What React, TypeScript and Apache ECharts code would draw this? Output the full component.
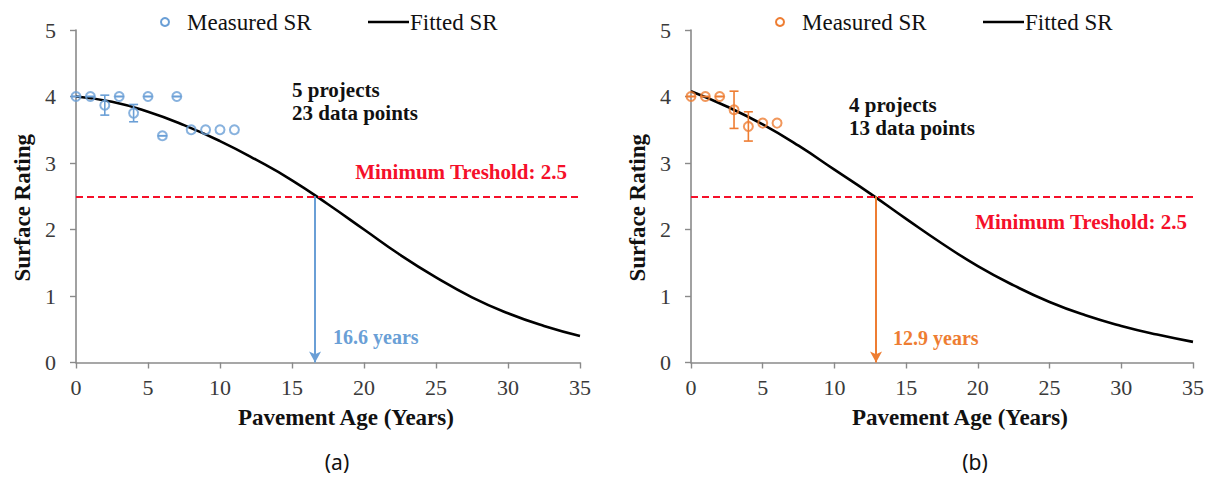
import React, { useEffect, useRef } from "react";
import * as echarts from "echarts";

// ---- data ----
const fitYears = [0, 2.5, 5, 7.5, 10, 12.5, 15, 17.5, 20, 22.5, 25, 27.5, 30, 32.5, 35];
const fittedA = [4.0, 3.92, 3.77, 3.57, 3.33, 3.05, 2.74, 2.38, 2.0, 1.62, 1.28, 0.98, 0.74, 0.55, 0.4];
const fittedB = [4.08, 3.85, 3.58, 3.26, 2.9, 2.54, 2.16, 1.79, 1.45, 1.16, 0.91, 0.71, 0.55, 0.42, 0.31];

const measuredAgeA = [0, 1, 2, 3, 4, 5, 6, 7, 8, 9, 10, 11];
const measuredSRA = [4.0, 4.0, 3.87, 4.0, 3.75, 4.0, 3.41, 4.0, 3.5, 3.5, 3.5, 3.5];
// error bars: [age, low, high]
const errAgeA = [0, 1, 2, 3, 4, 5, 6, 7];
const errLowA = [4.0, 4.0, 3.72, 4.0, 3.62, 4.0, 3.41, 4.0];
const errHighA = [4.0, 4.0, 4.02, 4.0, 3.88, 4.0, 3.41, 4.0];

const measuredAgeB = [0, 1, 2, 3, 4, 5, 6];
const measuredSRB = [4.0, 4.0, 4.0, 3.8, 3.55, 3.6, 3.6];
const errAgeB = [0, 1, 2, 3, 4];
const errLowB = [4.0, 4.0, 4.0, 3.52, 3.33];
const errHighB = [4.0, 4.0, 4.0, 4.08, 3.77];

const threshold = 2.5;
const lifeA = 16.6;
const lifeB = 12.9;

const xTicks = { min: 0, max: 35, interval: 5 };
const yTicks = { min: 0, max: 5, interval: 1 };

// ---- style ----
const SERIF = "'Liberation Serif', 'Times New Roman', serif";
const BLUE = "#6a9fd6";
const ORANGE = "#ee7d32";
const RED = "#f5102a";

function zip(a: number[], b: number[]) {
  return a.map((v, i) => [v, b[i]]);
}

function errData(a: number[], lo: number[], hi: number[]) {
  return a.map((v, i) => [v, lo[i], hi[i]]);
}

function errSeries(idx: number, data: number[][], color: string) {
  return {
    type: "custom",
    xAxisIndex: idx,
    yAxisIndex: idx,
    z: 5,
    silent: true,
    encode: { x: 0, y: [1, 2] },
    data,
    renderItem: (params: any, api: any) => {
      const x = api.value(0);
      const lo = api.coord([x, api.value(1)]);
      const hi = api.coord([x, api.value(2)]);
      const w = 4.5;
      const st = { stroke: color, lineWidth: 1.6 };
      return {
        type: "group",
        children: [
          { type: "line", shape: { x1: lo[0], y1: lo[1], x2: hi[0], y2: hi[1] }, style: st },
          { type: "line", shape: { x1: lo[0] - w, y1: lo[1], x2: lo[0] + w, y2: lo[1] }, style: st },
          { type: "line", shape: { x1: hi[0] - w, y1: hi[1], x2: hi[0] + w, y2: hi[1] }, style: st },
        ],
      };
    },
  };
}

function xAxis(idx: number, nameShift: number) {
  return {
    type: "value",
    gridIndex: idx,
    ...xTicks,
    name: "Pavement Age (Years)",
    nameLocation: "middle",
    nameGap: 43,
    nameTextStyle: {
      fontFamily: SERIF,
      fontWeight: "bold",
      fontSize: 23,
      color: "#111",
      padding: [0, 0, 0, nameShift],
    },
    axisLine: { show: true, lineStyle: { color: "#8a8a8a", width: 1.6 } },
    axisTick: { show: true, inside: false, length: 6, lineStyle: { color: "#8a8a8a", width: 1.4 } },
    axisLabel: { fontFamily: SERIF, fontSize: 22, color: "#3a3a3a", margin: 14 },
    splitLine: { show: false },
  };
}

function yAxis(idx: number) {
  return {
    type: "value",
    gridIndex: idx,
    ...yTicks,
    name: "Surface Rating",
    nameLocation: "middle",
    nameGap: 42,
    nameTextStyle: {
      fontFamily: SERIF,
      fontWeight: "bold",
      fontSize: 23,
      color: "#111",
      padding: [0, 23, 0, 0],
    },
    axisLine: { show: true, lineStyle: { color: "#8a8a8a", width: 1.6 } },
    axisTick: { show: true, inside: false, length: 6, lineStyle: { color: "#8a8a8a", width: 1.4 } },
    axisLabel: { fontFamily: SERIF, fontSize: 22, color: "#3a3a3a", margin: 20 },
    splitLine: { show: false },
  };
}

function fittedSeries(idx: number, data: number[]) {
  return {
    name: "Fitted SR",
    type: "line",
    xAxisIndex: idx,
    yAxisIndex: idx,
    data: zip(fitYears, data),
    smooth: 0.5,
    showSymbol: false,
    silent: true,
    z: 3,
    lineStyle: { color: "#000", width: 2.6 },
    markLine: {
      silent: true,
      symbol: "none",
      animation: false,
      label: { show: false },
      lineStyle: { color: RED, width: 2.2, type: [7, 4] },
      data: [{ yAxis: threshold }],
    },
  };
}

function measuredSeries(idx: number, ages: number[], vals: number[], color: string, life: number) {
  return {
    name: "Measured SR",
    type: "scatter",
    xAxisIndex: idx,
    yAxisIndex: idx,
    data: zip(ages, vals),
    symbol: "circle",
    symbolSize: 9,
    z: 4,
    silent: true,
    itemStyle: { color: "rgba(255,255,255,0)", borderColor: color, borderWidth: 2 },
    markLine: {
      silent: true,
      animation: false,
      symbol: ["none", "arrow"],
      symbolSize: [9, 11],
      label: { show: false },
      lineStyle: { color, width: 2, type: "solid" },
      data: [[{ coord: [life, threshold] }, { coord: [life, 0] }]],
    },
  };
}

function legend(axisX: number, color: string) {
  const y = 22;
  const font = { fontFamily: SERIF, fontSize: 23, fill: "#111", verticalAlign: "middle" };
  return [
    { type: "circle", shape: { cx: axisX + 89, cy: y, r: 4 }, style: { fill: "none", stroke: color, lineWidth: 2 } },
    { type: "text", x: axisX + 111, y, style: { ...font, text: "Measured SR" } },
    { type: "line", shape: { x1: axisX + 292, y1: y, x2: axisX + 333, y2: y }, style: { stroke: "#000", lineWidth: 2.6 } },
    { type: "text", x: axisX + 334, y, style: { ...font, text: "Fitted SR" } },
  ];
}

function boldText(text: string, x: number, y: number, fill: string, align = "left", size = 21) {
  return {
    type: "text",
    x,
    y,
    style: { text, fontFamily: SERIF, fontWeight: "bold", fontSize: size, fill, align, verticalAlign: "middle" },
  };
}

function caption(text: string, x: number) {
  return {
    type: "text",
    x,
    y: 462,
    style: {
      text,
      fontFamily: "'Noto Sans', 'Open Sans', sans-serif",
      fontSize: 21,
      fill: "#111",
      align: "center",
      verticalAlign: "middle",
    },
  };
}

export default function App() {
  const ref = useRef<HTMLDivElement>(null);

  useEffect(() => {
    if (!ref.current) return;
    const chart = echarts.init(ref.current, undefined, { renderer: "svg" });
    const gridA = { left: 76, top: 30, width: 504, height: 332.5 };
    const gridB = { left: 691, top: 30, width: 504, height: 332.5 };
    chart.setOption({
      animation: false,
      backgroundColor: "#ffffff",
      grid: [gridA, gridB],
      xAxis: [xAxis(0, 36), xAxis(1, 36)],
      yAxis: [yAxis(0), yAxis(1)],
      series: [
        fittedSeries(0, fittedA),
        measuredSeries(0, measuredAgeA, measuredSRA, BLUE, lifeA),
        errSeries(0, errData(errAgeA, errLowA, errHighA), BLUE),
        fittedSeries(1, fittedB),
        measuredSeries(1, measuredAgeB, measuredSRB, ORANGE, lifeB),
        errSeries(1, errData(errAgeB, errLowB, errHighB), ORANGE),
      ],
      graphic: [
        ...legend(76, BLUE),
        ...legend(691, ORANGE),
        boldText("5 projects", 292, 90, "#111"),
        boldText("23 data points", 292, 113, "#111"),
        boldText("4 projects", 849, 105, "#111"),
        boldText("13 data points", 849, 128, "#111"),
        boldText("Minimum Treshold: 2.5", 567, 172, RED, "right"),
        boldText("Minimum Treshold: 2.5", 1187, 222, RED, "right"),
        boldText("16.6 years", 333, 337, BLUE, "left", 20),
        boldText("12.9 years", 893, 338, ORANGE, "left", 20),
        caption("(a)", 337),
        caption("(b)", 975),
      ],
    });
    return () => chart.dispose();
  }, []);

  return (
    <div
      ref={ref}
      style={{ position: "absolute", left: 0, top: 0, width: 1207, height: 479, background: "#fff" }}
    />
  );
}
